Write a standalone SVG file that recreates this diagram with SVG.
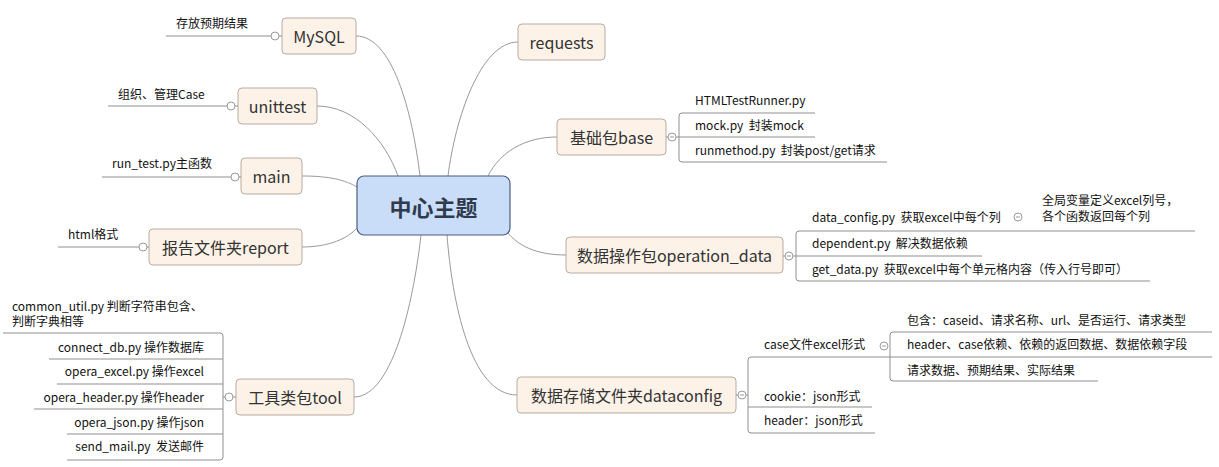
<svg xmlns="http://www.w3.org/2000/svg" width="1219" height="467" viewBox="0 0 1219 467">
<style>
.bg{fill:#ffffff}
.node rect{fill:#fcf2e8;stroke:#b9aca0;stroke-width:1}
.ntext{font-family:"Noto Sans CJK SC","Noto Sans",sans-serif;font-size:16px;fill:#333333;text-anchor:middle;dominant-baseline:central}
.ctext{font-family:"Noto Sans CJK SC","Noto Sans",sans-serif;font-size:22px;font-weight:bold;fill:#2f3b4c;text-anchor:middle;dominant-baseline:central}
.t{font-family:"Noto Sans CJK SC","Noto Sans",sans-serif;font-size:12px;fill:#111111;white-space:pre}
.r{text-anchor:end}
.conn path{fill:none;stroke:#999999;stroke-width:1}
.ln{fill:none;stroke:#8f8f8f;stroke-width:1}
.ci{fill:#ffffff;stroke:#9a9a9a;stroke-width:1}
.mi{stroke:#9a9a9a;stroke-width:1}
</style>
<rect class="bg" x="0" y="0" width="1219" height="467"/>

<g id="connectors" class="conn">
<path d="M356 36 C392 36 412 110 420 176"/>
<path d="M317 106 C355 106 385 140 398 176"/>
<path d="M302 176 C330 176 345 180 357 187"/>
<path d="M302 247 C330 247 348 238 357 228"/>
<path d="M354 397 C395 397 415 290 421 235"/>
<path d="M518 42 C480 42 455 120 448 176"/>
<path d="M557 137 C525 137 500 152 488 176"/>
<path d="M566 255 C535 255 518 245 508 233"/>
<path d="M517 395 C470 395 452 300 447 235"/>
</g>

<g id="center">
<rect x="357" y="176" width="153" height="59" rx="7" fill="#c9dcf8" stroke="#4b5d80" stroke-width="1.2"/>
<text class="ctext" x="433.5" y="205.5">中心主题</text>
</g>

<g id="mysql" class="node">
<rect x="282" y="18" width="74" height="36" rx="4"/>
<text class="ntext" x="319" y="36">MySQL</text>
<path class="ln" d="M166 36 H271 M279 36 H282"/>
<circle class="ci" cx="275" cy="36" r="4"/>
<text class="t" x="176" y="28">存放预期结果</text>
</g>

<g id="unittest" class="node">
<rect x="238" y="88" width="79" height="36" rx="4"/>
<text class="ntext" x="277.5" y="106">unittest</text>
<path class="ln" d="M108 106 H227 M235 106 H238"/>
<circle class="ci" cx="231" cy="106" r="4"/>
<text class="t" x="118" y="99">组织、管理Case</text>
</g>

<g id="main" class="node">
<rect x="241" y="158" width="61" height="36" rx="4"/>
<text class="ntext" x="271.5" y="176">main</text>
<path class="ln" d="M102 177 H231 M239 177 H241"/>
<circle class="ci" cx="235" cy="177" r="4"/>
<text class="t" x="112" y="168">run_test.py主函数</text>
</g>

<g id="report" class="node">
<rect x="149" y="229" width="153" height="36" rx="4"/>
<text class="ntext" x="225.5" y="247">报告文件夹report</text>
<path class="ln" d="M58 247 H139 M147 247 H149"/>
<circle class="ci" cx="143" cy="247" r="4"/>
<text class="t" x="68" y="239">html格式</text>
</g>

<g id="tool" class="node">
<rect x="236" y="379" width="118" height="36" rx="4"/>
<text class="ntext" x="295" y="397">工具类包tool</text>
<path class="ln" d="M3 333 H220 Q223 333 223 336 V457 Q223 460 220 460 H67"/>
<path class="ln" d="M49 359 H223 M57 384 H223 M34 409 H223 M67 434 H223 M223 397 H225 M233 397 H236"/>
<circle class="ci" cx="229" cy="397" r="4"/>
<text class="t" x="12" y="311">common_util.py 判断字符串包含、</text>
<text class="t" x="12" y="326">判断字典相等</text>
<text class="t r" x="204" y="352">connect_db.py 操作数据库</text>
<text class="t r" x="204" y="376">opera_excel.py 操作excel</text>
<text class="t r" x="204" y="402">opera_header.py 操作header</text>
<text class="t r" x="204" y="427">opera_json.py 操作json</text>
<text class="t r" x="204" y="451">send_mail.py  发送邮件</text>
</g>

<g id="requests" class="node">
<rect x="518" y="24" width="87" height="36" rx="4"/>
<text class="ntext" x="561.5" y="42">requests</text>
</g>

<g id="base" class="node">
<rect x="557" y="119" width="109" height="36" rx="4"/>
<text class="ntext" x="611.5" y="137">基础包base</text>
<path class="ln" d="M815 113 H682 Q679 113 679 116 V159 Q679 162 682 162 H887"/>
<path class="ln" d="M666 137 H668 M676 137 H815"/>
<circle class="ci" cx="672" cy="137" r="4"/>
<line class="mi" x1="670" y1="137" x2="674" y2="137"/>
<text class="t" x="695" y="105">HTMLTestRunner.py</text>
<text class="t" x="695" y="130">mock.py  封装mock</text>
<text class="t" x="695" y="155">runmethod.py  封装post/get请求</text>
</g>

<g id="operation_data" class="node">
<rect x="566" y="237" width="217" height="36" rx="4"/>
<text class="ntext" x="674.5" y="255">数据操作包operation_data</text>
<path class="ln" d="M1195 231 H799 Q796 231 796 234 V278 Q796 281 799 281 H1150"/>
<path class="ln" d="M783 256 H785 M793 256 H982"/>
<circle class="ci" cx="789" cy="256" r="4"/>
<line class="mi" x1="787" y1="256" x2="791" y2="256"/>
<text class="t" x="812" y="222">data_config.py  获取excel中每个列</text>
<circle class="ci" cx="1018" cy="217" r="4"/>
<line class="mi" x1="1016" y1="217" x2="1020" y2="217"/>
<text class="t" x="1042" y="205">全局变量定义excel列号，</text>
<text class="t" x="1042" y="221">各个函数返回每个列</text>
<text class="t" x="812" y="248">dependent.py  解决数据依赖</text>
<text class="t" x="812" y="274">get_data.py  获取excel中每个单元格内容（传入行号即可）</text>
</g>

<g id="dataconfig" class="node">
<rect x="517" y="377" width="219" height="36" rx="4"/>
<text class="ntext" x="626.5" y="395">数据存储文件夹dataconfig</text>
<path class="ln" d="M890 357 H751 Q748 357 748 360 V430 Q748 433 751 433 H875"/>
<path class="ln" d="M748 407 H872 M736 395 H738 M746 395 H748"/>
<circle class="ci" cx="742" cy="395" r="4"/>
<line class="mi" x1="740" y1="395" x2="744" y2="395"/>
<text class="t" x="764" y="349">case文件excel形式</text>
<text class="t" x="764" y="401">cookie：json形式</text>
<text class="t" x="764" y="425">header：json形式</text>
<circle class="ci" cx="884" cy="346" r="4"/>
<line class="mi" x1="882" y1="346" x2="886" y2="346"/>
<path class="ln" d="M1212 332 H893 Q890 332 890 335 V378 Q890 381 893 381 H1098"/>
<path class="ln" d="M890 357 H1212"/>
<text class="t" x="907" y="325">包含：caseid、请求名称、url、是否运行、请求类型</text>
<text class="t" x="907" y="349">header、case依赖、依赖的返回数据、数据依赖字段</text>
<text class="t" x="907" y="375">请求数据、预期结果、实际结果</text>
</g>
</svg>
